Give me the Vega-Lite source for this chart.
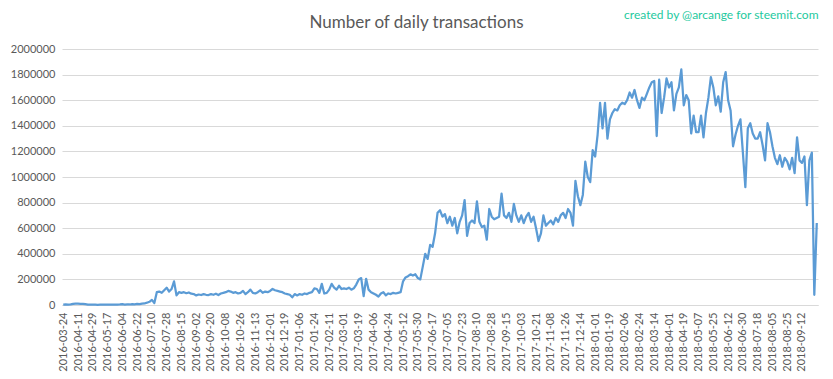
{
  "$schema": "https://vega.github.io/schema/vega-lite/v6.json",
  "width": 756,
  "height": 256,
  "autosize": {"type": "none"},
  "padding": {"left": 62, "top": 49, "right": 15, "bottom": 74},
  "background": "white",
  "config": {"view": {"stroke": null}},
  "data": {"values": [
    {"d":"2016-03-24","v":3000},{"d":"2016-03-27","v":4000},{"d":"2016-03-30","v":3000},{"d":"2016-04-02","v":5000},{"d":"2016-04-05","v":8000},{"d":"2016-04-08","v":10000},
    {"d":"2016-04-11","v":10000},{"d":"2016-04-14","v":9000},{"d":"2016-04-17","v":8000},{"d":"2016-04-20","v":6000},{"d":"2016-04-23","v":3000},{"d":"2016-04-26","v":2000},
    {"d":"2016-04-29","v":2000},{"d":"2016-05-02","v":2000},{"d":"2016-05-05","v":1000},{"d":"2016-05-08","v":2000},{"d":"2016-05-11","v":2000},{"d":"2016-05-14","v":2000},
    {"d":"2016-05-17","v":2000},{"d":"2016-05-20","v":2000},{"d":"2016-05-23","v":2000},{"d":"2016-05-26","v":3000},{"d":"2016-05-29","v":3000},{"d":"2016-06-01","v":4000},
    {"d":"2016-06-04","v":6000},{"d":"2016-06-07","v":3000},{"d":"2016-06-10","v":5000},{"d":"2016-06-13","v":4000},{"d":"2016-06-16","v":7000},{"d":"2016-06-19","v":5000},
    {"d":"2016-06-22","v":8000},{"d":"2016-06-25","v":7000},{"d":"2016-06-28","v":10000},{"d":"2016-07-01","v":12000},{"d":"2016-07-04","v":18000},{"d":"2016-07-07","v":25000},
    {"d":"2016-07-10","v":40000},{"d":"2016-07-13","v":15000},{"d":"2016-07-16","v":100000},{"d":"2016-07-19","v":105000},{"d":"2016-07-22","v":95000},{"d":"2016-07-25","v":115000},
    {"d":"2016-07-28","v":135000},{"d":"2016-07-31","v":105000},{"d":"2016-08-03","v":125000},{"d":"2016-08-06","v":185000},{"d":"2016-08-09","v":75000},{"d":"2016-08-12","v":100000},
    {"d":"2016-08-15","v":95000},{"d":"2016-08-18","v":100000},{"d":"2016-08-21","v":92000},{"d":"2016-08-24","v":98000},{"d":"2016-08-27","v":88000},{"d":"2016-08-30","v":85000},
    {"d":"2016-09-02","v":75000},{"d":"2016-09-05","v":82000},{"d":"2016-09-08","v":78000},{"d":"2016-09-11","v":85000},{"d":"2016-09-14","v":80000},{"d":"2016-09-17","v":78000},
    {"d":"2016-09-20","v":85000},{"d":"2016-09-23","v":80000},{"d":"2016-09-26","v":88000},{"d":"2016-09-29","v":78000},{"d":"2016-10-02","v":90000},{"d":"2016-10-05","v":95000},
    {"d":"2016-10-08","v":100000},{"d":"2016-10-11","v":110000},{"d":"2016-10-14","v":105000},{"d":"2016-10-17","v":95000},{"d":"2016-10-20","v":100000},{"d":"2016-10-23","v":90000},
    {"d":"2016-10-26","v":95000},{"d":"2016-10-29","v":110000},{"d":"2016-11-01","v":85000},{"d":"2016-11-04","v":100000},{"d":"2016-11-07","v":120000},{"d":"2016-11-10","v":95000},
    {"d":"2016-11-13","v":90000},{"d":"2016-11-16","v":100000},{"d":"2016-11-19","v":115000},{"d":"2016-11-22","v":95000},{"d":"2016-11-25","v":105000},{"d":"2016-11-28","v":100000},
    {"d":"2016-12-01","v":110000},{"d":"2016-12-04","v":125000},{"d":"2016-12-07","v":115000},{"d":"2016-12-10","v":110000},{"d":"2016-12-13","v":105000},{"d":"2016-12-16","v":100000},
    {"d":"2016-12-19","v":90000},{"d":"2016-12-22","v":85000},{"d":"2016-12-25","v":80000},{"d":"2016-12-28","v":60000},{"d":"2016-12-31","v":85000},{"d":"2017-01-03","v":75000},
    {"d":"2017-01-06","v":85000},{"d":"2017-01-09","v":80000},{"d":"2017-01-12","v":90000},{"d":"2017-01-15","v":85000},{"d":"2017-01-18","v":95000},{"d":"2017-01-21","v":100000},
    {"d":"2017-01-24","v":130000},{"d":"2017-01-27","v":125000},{"d":"2017-01-30","v":95000},{"d":"2017-02-02","v":165000},{"d":"2017-02-05","v":90000},{"d":"2017-02-08","v":95000},
    {"d":"2017-02-11","v":120000},{"d":"2017-02-14","v":165000},{"d":"2017-02-17","v":135000},{"d":"2017-02-20","v":120000},{"d":"2017-02-23","v":150000},{"d":"2017-02-26","v":125000},
    {"d":"2017-03-01","v":130000},{"d":"2017-03-04","v":125000},{"d":"2017-03-07","v":135000},{"d":"2017-03-10","v":120000},{"d":"2017-03-13","v":130000},{"d":"2017-03-16","v":160000},
    {"d":"2017-03-19","v":200000},{"d":"2017-03-22","v":210000},{"d":"2017-03-25","v":70000},{"d":"2017-03-28","v":205000},{"d":"2017-03-31","v":120000},{"d":"2017-04-03","v":100000},
    {"d":"2017-04-06","v":90000},{"d":"2017-04-09","v":80000},{"d":"2017-04-12","v":65000},{"d":"2017-04-15","v":90000},{"d":"2017-04-18","v":100000},{"d":"2017-04-21","v":75000},
    {"d":"2017-04-24","v":90000},{"d":"2017-04-27","v":85000},{"d":"2017-04-30","v":95000},{"d":"2017-05-03","v":90000},{"d":"2017-05-06","v":95000},{"d":"2017-05-09","v":100000},
    {"d":"2017-05-12","v":185000},{"d":"2017-05-15","v":215000},{"d":"2017-05-18","v":225000},{"d":"2017-05-21","v":240000},{"d":"2017-05-24","v":230000},{"d":"2017-05-27","v":240000},
    {"d":"2017-05-30","v":210000},{"d":"2017-06-02","v":200000},{"d":"2017-06-05","v":300000},{"d":"2017-06-08","v":400000},{"d":"2017-06-11","v":360000},{"d":"2017-06-14","v":470000},
    {"d":"2017-06-17","v":455000},{"d":"2017-06-20","v":560000},{"d":"2017-06-23","v":720000},{"d":"2017-06-26","v":740000},{"d":"2017-06-29","v":690000},{"d":"2017-07-02","v":710000},
    {"d":"2017-07-05","v":640000},{"d":"2017-07-08","v":690000},{"d":"2017-07-11","v":620000},{"d":"2017-07-14","v":680000},{"d":"2017-07-17","v":560000},{"d":"2017-07-20","v":650000},
    {"d":"2017-07-23","v":700000},{"d":"2017-07-26","v":820000},{"d":"2017-07-29","v":540000},{"d":"2017-08-01","v":640000},{"d":"2017-08-04","v":660000},{"d":"2017-08-07","v":640000},
    {"d":"2017-08-10","v":810000},{"d":"2017-08-13","v":650000},{"d":"2017-08-16","v":610000},{"d":"2017-08-19","v":620000},{"d":"2017-08-22","v":510000},{"d":"2017-08-25","v":750000},
    {"d":"2017-08-28","v":690000},{"d":"2017-08-31","v":670000},{"d":"2017-09-03","v":680000},{"d":"2017-09-06","v":690000},{"d":"2017-09-09","v":870000},{"d":"2017-09-12","v":700000},
    {"d":"2017-09-15","v":680000},{"d":"2017-09-18","v":720000},{"d":"2017-09-21","v":650000},{"d":"2017-09-24","v":790000},{"d":"2017-09-27","v":700000},{"d":"2017-09-30","v":650000},
    {"d":"2017-10-03","v":700000},{"d":"2017-10-06","v":640000},{"d":"2017-10-09","v":690000},{"d":"2017-10-12","v":720000},{"d":"2017-10-15","v":650000},{"d":"2017-10-18","v":690000},
    {"d":"2017-10-21","v":600000},{"d":"2017-10-24","v":500000},{"d":"2017-10-27","v":560000},{"d":"2017-10-30","v":700000},{"d":"2017-11-02","v":620000},{"d":"2017-11-05","v":640000},
    {"d":"2017-11-08","v":660000},{"d":"2017-11-11","v":630000},{"d":"2017-11-14","v":680000},{"d":"2017-11-17","v":650000},{"d":"2017-11-20","v":700000},{"d":"2017-11-23","v":720000},
    {"d":"2017-11-26","v":680000},{"d":"2017-11-29","v":750000},{"d":"2017-12-02","v":720000},{"d":"2017-12-05","v":620000},{"d":"2017-12-08","v":970000},{"d":"2017-12-11","v":850000},
    {"d":"2017-12-14","v":780000},{"d":"2017-12-17","v":860000},{"d":"2017-12-20","v":1120000},{"d":"2017-12-23","v":1000000},{"d":"2017-12-26","v":960000},{"d":"2017-12-29","v":1210000},
    {"d":"2018-01-01","v":1160000},{"d":"2018-01-04","v":1330000},{"d":"2018-01-07","v":1580000},{"d":"2018-01-10","v":1380000},{"d":"2018-01-13","v":1580000},{"d":"2018-01-16","v":1300000},
    {"d":"2018-01-19","v":1450000},{"d":"2018-01-22","v":1500000},{"d":"2018-01-25","v":1530000},{"d":"2018-01-28","v":1520000},{"d":"2018-01-31","v":1560000},{"d":"2018-02-03","v":1580000},
    {"d":"2018-02-06","v":1570000},{"d":"2018-02-09","v":1600000},{"d":"2018-02-12","v":1660000},{"d":"2018-02-15","v":1620000},{"d":"2018-02-18","v":1680000},{"d":"2018-02-21","v":1600000},
    {"d":"2018-02-24","v":1540000},{"d":"2018-02-27","v":1620000},{"d":"2018-03-02","v":1600000},{"d":"2018-03-05","v":1650000},{"d":"2018-03-08","v":1700000},{"d":"2018-03-11","v":1740000},
    {"d":"2018-03-14","v":1750000},{"d":"2018-03-17","v":1320000},{"d":"2018-03-20","v":1760000},{"d":"2018-03-23","v":1500000},{"d":"2018-03-26","v":1620000},{"d":"2018-03-29","v":1770000},
    {"d":"2018-04-01","v":1700000},{"d":"2018-04-04","v":1740000},{"d":"2018-04-07","v":1520000},{"d":"2018-04-10","v":1650000},{"d":"2018-04-13","v":1700000},{"d":"2018-04-16","v":1840000},
    {"d":"2018-04-19","v":1560000},{"d":"2018-04-22","v":1640000},{"d":"2018-04-25","v":1600000},{"d":"2018-04-28","v":1340000},{"d":"2018-05-01","v":1480000},{"d":"2018-05-04","v":1350000},
    {"d":"2018-05-07","v":1350000},{"d":"2018-05-10","v":1480000},{"d":"2018-05-13","v":1310000},{"d":"2018-05-16","v":1500000},{"d":"2018-05-19","v":1620000},{"d":"2018-05-22","v":1780000},
    {"d":"2018-05-25","v":1700000},{"d":"2018-05-28","v":1560000},{"d":"2018-05-31","v":1630000},{"d":"2018-06-03","v":1510000},{"d":"2018-06-06","v":1740000},{"d":"2018-06-09","v":1820000},
    {"d":"2018-06-12","v":1600000},{"d":"2018-06-15","v":1520000},{"d":"2018-06-18","v":1240000},{"d":"2018-06-21","v":1330000},{"d":"2018-06-24","v":1400000},{"d":"2018-06-27","v":1450000},
    {"d":"2018-06-30","v":1190000},{"d":"2018-07-03","v":920000},{"d":"2018-07-06","v":1380000},{"d":"2018-07-09","v":1420000},{"d":"2018-07-12","v":1340000},{"d":"2018-07-15","v":1300000},
    {"d":"2018-07-18","v":1300000},{"d":"2018-07-21","v":1350000},{"d":"2018-07-24","v":1250000},{"d":"2018-07-27","v":1130000},{"d":"2018-07-30","v":1420000},{"d":"2018-08-02","v":1350000},
    {"d":"2018-08-05","v":1240000},{"d":"2018-08-08","v":1150000},{"d":"2018-08-11","v":1100000},{"d":"2018-08-14","v":1170000},{"d":"2018-08-17","v":1080000},{"d":"2018-08-21","v":1150000},
    {"d":"2018-08-25","v":1120000},{"d":"2018-08-28","v":1060000},{"d":"2018-08-31","v":1150000},{"d":"2018-09-03","v":1030000},{"d":"2018-09-06","v":1310000},{"d":"2018-09-09","v":1130000},
    {"d":"2018-09-12","v":1110000},{"d":"2018-09-15","v":1160000},{"d":"2018-09-18","v":780000},{"d":"2018-09-21","v":1130000},{"d":"2018-09-24","v":1190000},{"d":"2018-09-27","v":80000},
    {"d":"2018-09-30","v":640000}
  ]},
  "mark": {"type": "line", "color": "#5b9bd5", "strokeWidth": 2.25, "strokeJoin": "round"},
  "encoding": {
    "x": {
      "field": "d", "type": "ordinal", "sort": null,
      "scale": {"type": "point", "padding": 0.5},
      "axis": {
        "values": ["2016-03-24","2016-04-11","2016-04-29","2016-05-17","2016-06-04","2016-06-22","2016-07-10","2016-07-28","2016-08-15","2016-09-02","2016-09-20","2016-10-08","2016-10-26","2016-11-13","2016-12-01","2016-12-19","2017-01-06","2017-01-24","2017-02-11","2017-03-01","2017-03-19","2017-04-06","2017-04-24","2017-05-12","2017-05-30","2017-06-17","2017-07-05","2017-07-23","2017-08-10","2017-08-28","2017-09-15","2017-10-03","2017-10-21","2017-11-08","2017-11-26","2017-12-14","2018-01-01","2018-01-19","2018-02-06","2018-02-24","2018-03-14","2018-04-01","2018-04-19","2018-05-07","2018-05-25","2018-06-12","2018-06-30","2018-07-18","2018-08-05","2018-08-25","2018-09-12"],
        "labelAngle": -90, "labelAlign": "right", "labelBaseline": "middle",
        "labelOverlap": false, "labelPadding": 7,
        "labelFont": "Lato", "labelFontSize": 11, "labelColor": "#595959",
        "ticks": false, "grid": false,
        "domainColor": "#d9d9d9", "domainWidth": 1,
        "title": "created by @arcange for steemit.com",
        "titleAngle": 0, "titleAlign": "right", "titleBaseline": "alphabetic",
        "titleX": 756, "titleY": -287,
        "titleColor": "#1ec99e", "titleFont": "Lato", "titleFontSize": 12, "titleFontWeight": "normal"
      }
    },
    "y": {
      "field": "v", "type": "quantitative",
      "scale": {"domain": [0, 2000000], "nice": false},
      "axis": {
        "values": [0,200000,400000,600000,800000,1000000,1200000,1400000,1600000,1800000,2000000],
        "format": "d",
        "labelFont": "Lato", "labelFontSize": 11, "labelColor": "#595959", "labelPadding": 7,
        "ticks": false, "domain": false,
        "gridColor": "#d9d9d9", "gridWidth": 1,
        "title": "Number of daily transactions",
        "titleAngle": 0, "titleAlign": "center", "titleBaseline": "alphabetic",
        "titleX": 354, "titleY": -22,
        "titleColor": "#595959", "titleFont": "Lato", "titleFontSize": 17, "titleFontWeight": "normal"
      }
    }
  }
}
